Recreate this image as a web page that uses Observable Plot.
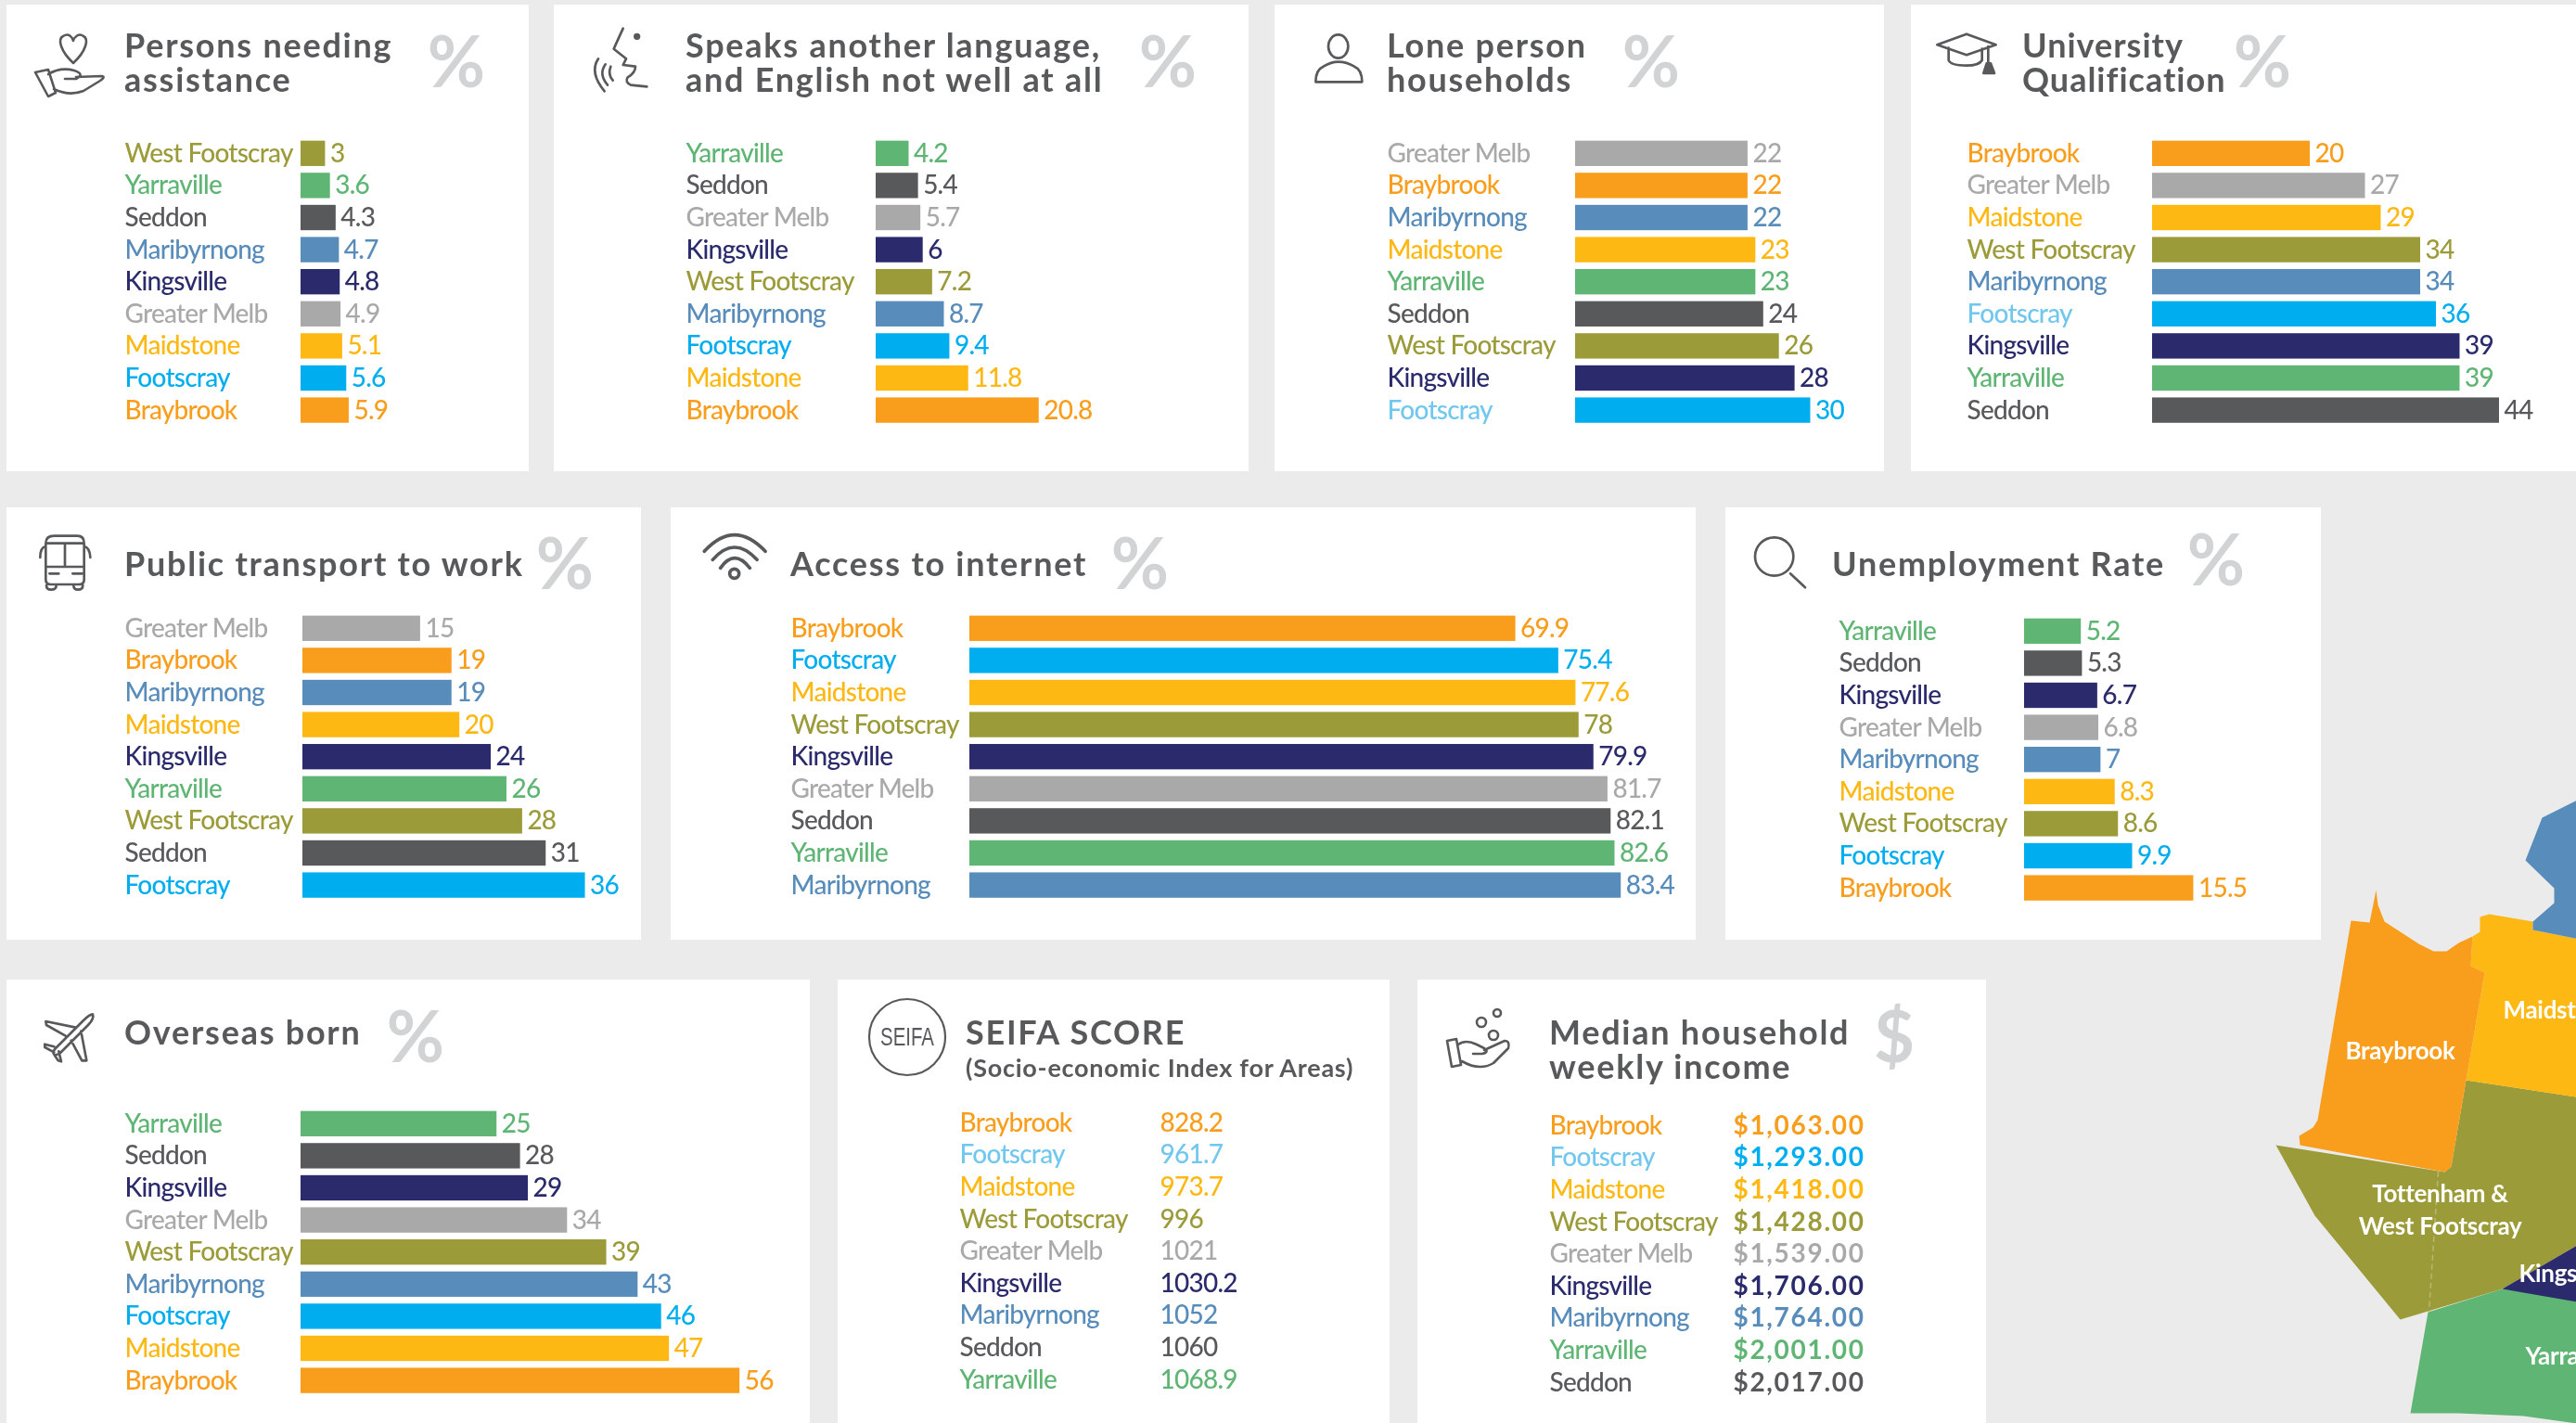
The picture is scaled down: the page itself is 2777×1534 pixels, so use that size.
<!DOCTYPE html>
<html><head><meta charset="utf-8">
<script src="https://cdn.jsdelivr.net/npm/d3@7"></script>
<script src="https://cdn.jsdelivr.net/npm/@observablehq/plot@0.6"></script>
<style>
html,body{margin:0;padding:0;background:#ebebeb;width:2777px;height:1534px;overflow:hidden}
#page{position:relative;width:2777px;height:1534px;overflow:hidden;font-family:Lato,sans-serif;filter:blur(.7px)}
.abs{position:absolute}
.panel{position:absolute;background:#fff}
.title{position:absolute;color:#58595b;font-size:36px;font-weight:700;line-height:37px;letter-spacing:1.75px;white-space:nowrap}
.sub{position:absolute;color:#58595b;font-size:27px;font-weight:700;letter-spacing:.75px;white-space:nowrap}
.glyph{position:absolute;color:#d1d3d4;font-size:76px;font-weight:700;line-height:72px;transform:translate(-50%,-50%)}
.icon{position:absolute;fill:none;stroke:#58595b;stroke-width:8;stroke-linecap:round;stroke-linejoin:round}
svg{overflow:visible}
</style></head><body><div id="page"></div>
<script>
const suburbNames = ["Braybrook","Footscray","Maidstone","West Footscray","Greater Melb","Kingsville","Maribyrnong","Seddon","Yarraville","Footscray (pale)"];
const suburbColors = ["#f99d1c","#00aeef","#fdb813","#9c9b3a","#a9a9aa","#2a2a6c","#588cba","#58595b","#5fb573","#72c7ee"];

const assistanceSuburbs = ["West Footscray","Yarraville","Seddon","Maribyrnong","Kingsville","Greater Melb","Maidstone","Footscray","Braybrook"];
const assistanceValues = [3,3.6,4.3,4.7,4.8,4.9,5.1,5.6,5.9];
const languageSuburbs = ["Yarraville","Seddon","Greater Melb","Kingsville","West Footscray","Maribyrnong","Footscray","Maidstone","Braybrook"];
const languageValues = [4.2,5.4,5.7,6,7.2,8.7,9.4,11.8,20.8];
const loneSuburbs = ["Greater Melb","Braybrook","Maribyrnong","Maidstone","Yarraville","Seddon","West Footscray","Kingsville","Footscray"];
const loneValues = [22,22,22,23,23,24,26,28,30];
const universitySuburbs = ["Braybrook","Greater Melb","Maidstone","West Footscray","Maribyrnong","Footscray","Kingsville","Yarraville","Seddon"];
const universityValues = [20,27,29,34,34,36,39,39,44];
const transportSuburbs = ["Greater Melb","Braybrook","Maribyrnong","Maidstone","Kingsville","Yarraville","West Footscray","Seddon","Footscray"];
const transportValues = [15,19,19,20,24,26,28,31,36];
const internetSuburbs = ["Braybrook","Footscray","Maidstone","West Footscray","Kingsville","Greater Melb","Seddon","Yarraville","Maribyrnong"];
const internetValues = [69.9,75.4,77.6,78,79.9,81.7,82.1,82.6,83.4];
const unemploymentSuburbs = ["Yarraville","Seddon","Kingsville","Greater Melb","Maribyrnong","Maidstone","West Footscray","Footscray","Braybrook"];
const unemploymentValues = [5.2,5.3,6.7,6.8,7,8.3,8.6,9.9,15.5];
const overseasSuburbs = ["Yarraville","Seddon","Kingsville","Greater Melb","West Footscray","Maribyrnong","Footscray","Maidstone","Braybrook"];
const overseasValues = [25,28,29,34,39,43,46,47,56];
const seifaSuburbs = ["Braybrook","Footscray","Maidstone","West Footscray","Greater Melb","Kingsville","Maribyrnong","Seddon","Yarraville"];
const seifaValues = [828.2,961.7,973.7,996,1021,1030.2,1052,1060,1068.9];
const incomeSuburbs = ["Braybrook","Footscray","Maidstone","West Footscray","Greater Melb","Kingsville","Maribyrnong","Yarraville","Seddon"];
const incomeValues = [1063,1293,1418,1428,1539,1706,1764,2001,2017];

const mapRegions = [
 {name:"West Footscray",ring:[[2453,1234],[2635,1263],[2642,1257],[2658,1164],[2777,1182],[2790,1335],[2697,1389],[2587,1422],[2495,1310]]},
 {name:"Yarraville",ring:[[2697,1389],[2617,1414],[2598,1523],[2650,1523],[2720,1526],[2777,1534],[2800,1540],[2800,1403]]},
 {name:"Kingsville",ring:[[2790,1335],[2697,1389],[2790,1405]]},
 {name:"Maidstone",ring:[[2673,988],[2683,985],[2730,993],[2730,1002],[2790,1014],[2790,1184],[2658,1164],[2678,1048],[2663,1041],[2665,1009],[2673,1004]]},
 {name:"Braybrook",ring:[[2561,959],[2554,994],[2534,992],[2498,1207],[2493,1215],[2478,1224],[2479,1234],[2635,1263],[2642,1257],[2678,1048],[2663,1041],[2665,1009],[2650,1016],[2637,1025],[2623,1025],[2607,1017],[2587,1004],[2570,993],[2563,975]]},
 {name:"Maribyrnong",ring:[[2790,856],[2740,881],[2722,927],[2753,957],[2753,973],[2730,993],[2730,1002],[2790,1014]]}
];
const mapLabelsCentered = [
 {text:"Braybrook",x:2587,y:1133},
 {text:"Tottenham &",x:2630,y:1287},
 {text:"West Footscray",x:2630,y:1322}
];
const mapLabelsClipped = [
 {text:"Maidstone",x:2698,y:1089},
 {text:"Kingsville",x:2715,y:1373},
 {text:"Yarraville",x:2722,y:1462}
];
const mapDivider = [[2628,1263],[2618,1414]];

const rowStep = 34.6, labelFont = 28;
const labelMark = {fontFamily:"Lato,sans-serif",fontWeight:500};
const plotStyle = {background:"transparent",overflow:"visible",letterSpacing:"-0.75px"};

const page = document.getElementById("page");
function add(cls,css,html){const d=document.createElement("div");d.className=cls;Object.assign(d.style,css);if(html!=null)d.innerHTML=html;page.appendChild(d);return d;}
function px(o){const r={};for(const k in o)r[k]=o[k]+"px";return r;}
const sharedColor = {domain:suburbNames,range:suburbColors};

function mapFeature(r){return {type:"Feature",properties:{name:r.name},geometry:{type:"Polygon",coordinates:[[...r.ring,r.ring[0]]]}};}
const mapPlot = Plot.plot({
  width:2777,height:1534,margin:0,projection:"identity",color:sharedColor,
  style:{background:"transparent",overflow:"visible",letterSpacing:"-0.3px"},
  marks:[
    Plot.geo(mapRegions.map(mapFeature),{fill:d=>d.properties.name}),
    Plot.geo([{type:"LineString",coordinates:mapDivider}],{stroke:"#b9b86e",strokeDasharray:"5 5",strokeWidth:1.5}),
    Plot.text(mapLabelsCentered,{x:"x",y:"y",text:"text",textAnchor:"middle",fill:"#fff",fontSize:26,...labelMark,fontWeight:700}),
    Plot.text(mapLabelsClipped,{x:"x",y:"y",text:"text",textAnchor:"start",fill:"#fff",fontSize:26,...labelMark,fontWeight:700})
  ]
});
mapPlot.style.position="absolute";mapPlot.style.left="0";mapPlot.style.top="0";
page.appendChild(mapPlot);

const panels = [
 {box:[7,5,563,503],title:["Persons needing","assistance"],tx:134,ty:30,unit:"%",gx:492,gy:65,kind:"bar",suburbs:assistanceSuburbs,values:assistanceValues,lx:134,bx:324,ry:165,ppu:8.8},
 {box:[597,5,749,503],title:["Speaks another language,","and English not well at all"],tx:739,ty:30,unit:"%",gx:1259,gy:65,kind:"bar",suburbs:languageSuburbs,values:languageValues,lx:739,bx:944,ry:165,ppu:8.45},
 {box:[1374,5,657,503],title:["Lone person","households"],tx:1495,ty:30,unit:"%",gx:1780,gy:65,kind:"bar",suburbs:loneSuburbs,values:loneValues,lx:1495,bx:1698,ry:165,ppu:8.45,pale:true},
 {box:[2060,5,717,503],title:["University","Qualification"],tracking:"1px",tx:2180,ty:30,unit:"%",gx:2439,gy:65,kind:"bar",suburbs:universitySuburbs,values:universityValues,lx:2120,bx:2320,ry:165,ppu:8.5,pale:true},
 {box:[7,547,684,466],title:["Public transport to work"],tx:134,ty:589,unit:"%",gx:609,gy:606,kind:"bar",suburbs:transportSuburbs,values:transportValues,lx:134,bx:326,ry:677,ppu:8.46},
 {box:[723,547,1105,466],title:["Access to internet"],tx:852,ty:589,unit:"%",gx:1229,gy:606,kind:"bar",suburbs:internetSuburbs,values:internetValues,lx:852,bx:1045,ry:677,ppu:8.42},
 {box:[1860,547,642,466],title:["Unemployment Rate"],tx:1975,ty:589,unit:"%",gx:2389,gy:602,kind:"bar",suburbs:unemploymentSuburbs,values:unemploymentValues,lx:1982,bx:2182,ry:680,ppu:11.77},
 {box:[7,1056,866,478],title:["Overseas born"],tx:134,ty:1094,unit:"%",gx:448,gy:1116,kind:"bar",suburbs:overseasSuburbs,values:overseasValues,lx:134,bx:324,ry:1211,ppu:8.45},
 {box:[903,1056,595,478],title:["SEIFA SCORE"],sub:"(Socio-economic Index for Areas)",tx:1041,ty:1094,kind:"table",suburbs:seifaSuburbs,values:seifaValues,fmt:String,lx:1034,vx:1250,ry:1210,pale:true},
 {box:[1528,1056,613,478],title:["Median household","weekly income"],tx:1670,ty:1094,unit:"$",gx:2042,gy:1116,kind:"table",suburbs:incomeSuburbs,values:incomeValues,fmt:d3.format("$,.2f"),lx:1670,vx:1868,ry:1213,paleLabelOnly:true}
];

function rowsOf(p){return p.suburbs.map((s,i)=>({suburb:s,value:p.values[i],
  labelKey:(s==="Footscray"&&(p.pale||p.paleLabelOnly))?"Footscray (pale)":s,
  valueKey:(s==="Footscray"&&p.pale&&p.kind==="table")?"Footscray (pale)":s,
  text:p.fmt?p.fmt(p.values[i]):String(p.values[i])}));}

function chart(p){
  const rows=rowsOf(p), H=rowStep*9;
  if(p.kind==="bar"){
    const mL=p.bx-p.lx, W=p.box[0]+p.box[2]-p.lx, dMax=(W-mL)/p.ppu;
    return Plot.plot({width:W,height:H,margin:0,marginLeft:mL,
      x:{domain:[0,dMax],range:[mL,W],axis:null},
      y:{type:"band",domain:p.suburbs,range:[0,H],axis:null,paddingInner:0.21,paddingOuter:0.105,round:false},
      color:sharedColor,style:plotStyle,
      marks:[
        Plot.barX(rows,{x:"value",y:"suburb",fill:"suburb"}),
        Plot.text(rows,{y:"suburb",text:"suburb",frameAnchor:"left",dx:-mL,textAnchor:"start",fill:"labelKey",fontSize:labelFont,...labelMark}),
        Plot.text(rows,{x:"value",y:"suburb",text:"text",dx:5,textAnchor:"start",fill:"suburb",fontSize:labelFont,...labelMark})
      ]});
  }
  const W=p.box[0]+p.box[2]-p.lx, mR=p.vx-p.lx;
  const c=Plot.plot({width:W,height:H,margin:0,marginLeft:0,
    y:{type:"band",domain:p.suburbs,range:[0,H],axis:null,paddingInner:0,paddingOuter:0,round:false},x:{axis:null,domain:[0,1],range:[0,W]},
    color:sharedColor,style:plotStyle,
    marks:[
      Plot.text(rows,{y:"suburb",text:"suburb",frameAnchor:"left",textAnchor:"start",fill:"labelKey",fontSize:labelFont,...labelMark}),
      Plot.text(rows,{y:"suburb",text:"text",frameAnchor:"left",dx:mR,textAnchor:"start",fill:"valueKey",
        fontSize:labelFont,...labelMark,fontWeight:p.paleLabelOnly?700:500})
    ]});
  if(p.paleLabelOnly) c.querySelectorAll("text").forEach(t=>{if(t.textContent.startsWith("$")) t.style.letterSpacing="1.7px";});
  return c;
}

for(const p of panels){
  const [x,y,w,h]=p.box;
  add("panel",px({left:x,top:y,width:w,height:h}));
  const t=add("title",px({left:p.tx,top:p.ty}),p.title.join("<br>"));
  if(p.tracking) t.style.letterSpacing=p.tracking;
  if(p.sub) add("sub",px({left:p.tx,top:p.ty+40}),p.sub);
  if(p.unit) add("glyph",px({left:p.gx,top:p.gy}),p.unit);
  const c=chart(p);
  const host=add("abs",px({left:p.lx,top:p.ry-rowStep/2}));
  host.appendChild(c);
}

const icons = [
 {x:620,y:10,w:120,h:100,vb:"0 0 360 300",d:`<path d="M155 62 L125 128 L165 160 L155 180 L195 185 Q195 205 170 220 Q160 235 180 245 L232 250"/><circle cx="200" cy="88" r="7" fill="#58595b"/><path d="M75 160 Q45 205 95 265M98 178 Q75 210 105 245M115 185 Q105 210 122 230"/>`},
 {x:1390,y:10,w:120,h:100,vb:"0 0 360 300",d:`<ellipse cx="158" cy="120" rx="32" ry="38"/><path d="M85 235 Q85 195 110 185 Q135 170 158 170 Q185 170 210 185 Q235 195 235 235 Z"/>`},
 {x:2070,y:10,w:120,h:100,vb:"0 0 360 300",d:`<path d="M55 115 L150 80 L245 115 L150 148 Z M92 125 V165 Q100 182 150 182 Q190 182 200 165 V128 M220 120 V185"/><path d="M205 207 L215 175 H228 L240 207 Z" fill="#58595b"/>`},
 {x:20,y:565,w:120,h:100,vb:"0 0 360 300",d:`<path d="M88 62 Q88 38 115 38 H190 Q212 38 212 62 V180 Q212 195 195 195 H105 Q88 195 88 180 Z M88 62 H212 M150 62 V138 M88 138 H212 M100 160 H130 M175 160 H205 M90 198 Q90 212 105 212 Q122 212 122 198 M178 198 Q178 212 192 212 Q208 212 208 198 M88 72 Q70 75 70 108 M212 72 Q230 75 232 108"/>`},
 {x:740,y:565,w:120,h:100,vb:"0 0 360 300",d:`<path stroke-width="11" d="M58 88 Q155 -18 255 88 M85 115 Q155 35 228 115 M110 142 Q155 78 205 142"/><circle stroke-width="11" cx="155" cy="160" r="15"/>`},
 {x:1870,y:565,w:120,h:100,vb:"0 0 360 300",d:`<circle cx="128" cy="105" r="62"/><path d="M180 160 L228 205"/>`},
 {x:30,y:1075,w:120,h:100,vb:"0 0 360 300",d:`<path d="M210 55 Q215 70 195 90 L105 180 Q90 190 85 185 Q78 178 90 165 L180 75 Q200 55 210 55 Z M155 98 L58 78 L60 90 L122 125 M140 140 L175 205 L190 205 L172 110 M85 160 L55 152 L55 162 L85 178 M100 175 L108 208 L98 205 L85 185"/>`},
 {x:30,y:30,w:90,h:80,vb:"0 0 90 80",sw:2.6,d:`<path d="M49 38 C35 25 32 12 38 9 C44 5 48 10 49 14 C50 10 55 5 60 9 C66 12 63 25 49 38 Z M8 48 L22 45 L30 70 L22 74 Z M22 50 Q35 42 50 46 Q62 50 52 55 H40 M52 53 L80 52 Q84 53 78 57 L60 68 Q45 74 28 66"/>`},
 {x:1550,y:1080,w:90,h:80,vb:"0 0 90 80",sw:2.6,d:`<circle cx="64" cy="12" r="4"/><circle cx="47" cy="22" r="5"/><circle cx="60" cy="36" r="5"/><path d="M10 42 L20 40 L25 68 L15 70 Z M22 46 Q30 40 42 46 L50 50 Q56 54 48 56 H38 M50 52 L72 42 Q78 42 76 50 L60 66 Q45 75 26 64"/>`},
 {x:930,y:1070,w:96,h:96,vb:"0 0 96 96",sw:2.2,d:`<circle cx="48" cy="48" r="41"/><text x="48" y="57" text-anchor="middle" stroke="none" fill="#58595b" font-family="Liberation Sans Narrow,Liberation Sans" font-size="28" textLength="58" lengthAdjust="spacingAndGlyphs">SEIFA</text>`}
];
for(const ic of icons){
  add("icon",{left:ic.x+"px",top:ic.y+"px",width:ic.w+"px",height:ic.h+"px"},
    `<svg width="${ic.w}" height="${ic.h}" viewBox="${ic.vb}"${ic.sw?` style="stroke-width:${ic.sw}"`:""}>${ic.d}</svg>`);
}
</script></body></html>
